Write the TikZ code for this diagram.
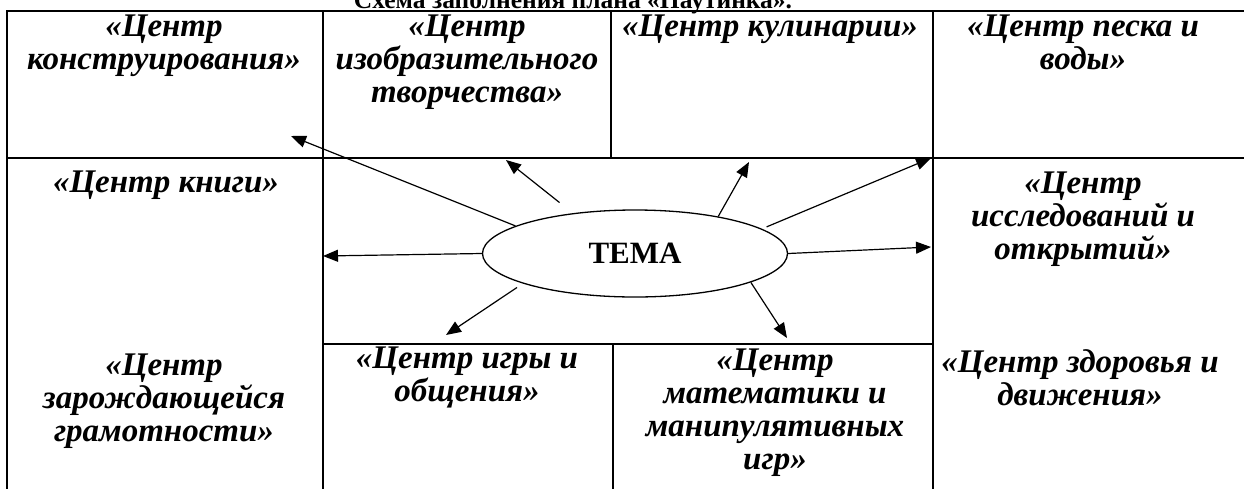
\documentclass[tikz,border=0pt]{standalone}
\usepackage{fontspec}
\setmainfont{Liberation Serif}
\usetikzlibrary{shapes.geometric,arrows.meta}

\tikzset{
  centre/.style={font=\fontsize{33}{33}\selectfont\bfseries\itshape, align=center, anchor=north, inner sep=0pt},
  grid/.style={line width=1.6pt},
  ray/.style={line width=1.2pt, -{Triangle[length=15pt,width=12pt]}},
}

\begin{document}
\begin{tikzpicture}[x=1pt,y=-1pt]
    \clip (0,0) rectangle (1244,488);

%title
    \node[anchor=base, inner sep=0pt, font=\fontsize{25.5}{28}\selectfont\bfseries] (title) at (573,8) {Схема заполнения плана «Паутинка».};

%table
    \draw[grid] (7,500) -- (7,11) -- (1260,11);
    \draw[grid] (7,158) -- (1260,158);
    \draw[grid] (323,11) -- (323,500);
    \draw[grid] (611,11) -- (611,158);
    \draw[grid] (933,11) -- (933,500);
    \draw[grid] (323,344) -- (933,344);
    \draw[grid] (613,344) -- (613,500);

%centres
    \node[centre] (konstr) at (164,15) {«Центр\\конструирования»};
    \node[centre] (izo) at (467,15) {«Центр\\изобразительного\\творчества»};
    \node[centre] (kulin) at (770,15) {«Центр кулинарии»};
    \node[centre] (pesok) at (1083,15) {«Центр песка и\\воды»};

    \node[centre] (kniga) at (166,171) {«Центр книги»};
    \node[centre] (issled) at (1083,172) {«Центр\\исследований и\\открытий»};

    \node[centre] (gramot) at (164,354) {«Центр\\зарождающейся\\грамотности»};
    \node[centre] (igra) at (467,347) {«Центр игры и\\общения»};
    \node[centre] (matem) at (775,349) {«Центр\\математики и\\манипулятивных\\игр»};
    \node[centre] (zdorov) at (1080,349) {«Центр здоровья и\\движения»};

%tema
    \node[draw, ellipse, line width=1.3pt, minimum width=305pt, minimum height=87pt, inner sep=0pt, font=\fontsize{31}{33}\selectfont\bfseries] (tema) at (635,253.5) {ТЕМА};

%arrows
    \coordinate (to-konstr) at (291,136);
    \coordinate (to-izo) at (506,160);
    \coordinate (to-kulin) at (749,162);
    \coordinate (to-pesok) at (931,158);
    \coordinate (to-issled) at (931,247);
    \coordinate (to-matem) at (787,338);
    \coordinate (to-igra) at (446,335);
    \coordinate (to-kniga) at (323,256);

    \draw[ray] (tema.167) -- (to-konstr);
    \draw[ray, shorten <=17pt] (tema.147) -- (to-izo);
    \draw[ray] (tema.24.5) -- (to-kulin);
    \draw[ray, shorten <=5pt] (tema.11) -- (to-pesok);
    \draw[ray] (tema.east) -- (to-issled);
    \draw[ray] (tema.-14.5) -- (to-matem);
    \draw[ray, shorten <=7pt] (tema.195) -- (to-igra);
    \draw[ray] (tema.west) -- (to-kniga);

\end{tikzpicture}
\end{document}
